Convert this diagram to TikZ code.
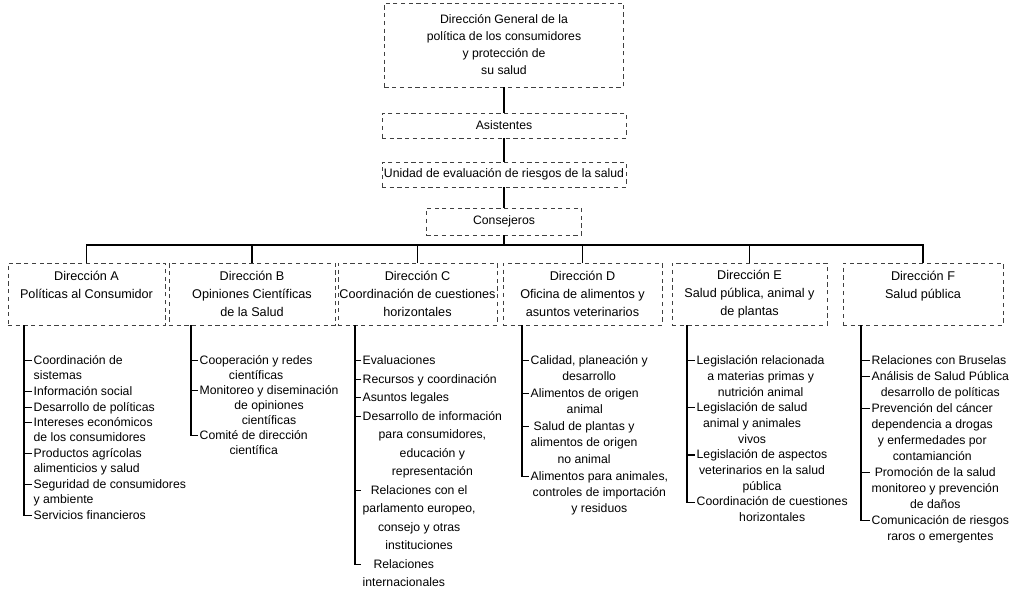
\documentclass[tikz,border=0pt]{standalone}
\usepackage{fontspec}
\setmainfont{Liberation Sans}

\newcommand{\txc}[1]{\begin{tabular}[t]{@{}c@{}}#1\end{tabular}}
\newcommand{\txl}[1]{\begin{tabular}[t]{@{}l@{}}#1\end{tabular}}

\tikzset{
  dbox/.style={draw=black!75, dash pattern=on 3pt off 2.5pt, line width=0.5pt, align=center, inner sep=1pt, font=\fontsize{8.7}{12.1}\selectfont},
  dirbox/.style={dbox, minimum height=1.55cm, font=\fontsize{9}{12.8}\selectfont},
  item/.style={anchor=base west, inner sep=1pt, font=\fontsize{8.7}{#1}\selectfont},
  item/.default=11pt,
  link/.style={line width=0.8pt},
}

\begin{document}
\begin{tikzpicture}[x=0.025cm,y=-0.025cm]
\useasboundingbox (0,0) rectangle (1013,593);
% upper part
\node[dbox, minimum width=5.975cm, minimum height=2.1cm] (dg) at (504,45) {Dirección General de la\\política de los consumidores\\y protección de\\su salud};
\node[dbox, minimum width=6.1cm, minimum height=0.625cm] (asis) at (504,125.5) {Asistentes};
\node[dbox, minimum width=6.1cm, minimum height=0.625cm] (unid) at (504,174.5) {Unidad de evaluación de riesgos de la salud};
\node[dbox, minimum width=3.875cm, minimum height=0.675cm] (cons) at (504,221.5) {Consejeros};
\coordinate (bus) at (504,245);
\draw[link] (dg) -- (asis);
\draw[link] (asis) -- (unid);
\draw[link] (unid) -- (cons);
\draw[link] (cons) -- (bus);
% direcciones
\node[dirbox, minimum width=3.925cm] (dirA) at (86.5,294) {Dirección A\\Políticas al Consumidor\\\mbox{}};
\node[dirbox, minimum width=4.15cm] (dirB) at (252,294) {Dirección B\\Opiniones Científicas\\de la Salud};
\node[dirbox, minimum width=3.975cm] (dirC) at (417.5,294) {Dirección C\\Coordinación de cuestiones\\horizontales};
\node[dirbox, minimum width=3.975cm] (dirD) at (582.5,294) {Dirección D\\Oficina de alimentos y\\asuntos veterinarios};
\node[dirbox, minimum width=3.875cm] (dirE) at (749.5,294) {Dirección E\\Salud pública, animal y\\de plantas};
\node[dirbox, minimum width=4cm] (dirF) at (923,294) {Dirección F\\Salud pública\\\mbox{}};
\draw[link] (dirA) |- (bus) -| (dirF);
\foreach \d in {dirB,dirC,dirD,dirE}
  \draw[link] (\d) -- (\d |- bus);
% Direccion A
\coordinate (sA) at (dirA.south -| 24,0);
\node[item] (a1) at (32,364.5) {\txl{Coordinación de\\sistemas}};
\node[item] (a2) at (32,395.5) {Información social};
\node[item] (a3) at (32,411) {Desarrollo de políticas};
\node[item] (a4) at (32,426.5) {\txl{Intereses económicos\\de los consumidores}};
\node[item] (a5) at (32,457.5) {\txl{Productos agrícolas\\alimenticios y salud}};
\node[item] (a6) at (32,488.5) {\txl{Seguridad de consumidores\\y ambiente}};
\node[item] (a7) at (32,519.5) {Servicios financieros};
\draw[link] (sA) |- (a7.mid west);
\foreach \i in {1,...,6}
  \draw[link] (a\i.mid west -| sA) -- (a\i.mid west);
% Direccion B
\coordinate (sB) at (dirB.south -| 191,0);
\node[item=10.7pt] (b1) at (198,364.5) {\txc{Cooperación y redes\\científicas}};
\node[item=10.7pt] (b2) at (198,394.5) {\txc{Monitoreo y diseminación\\de opiniones\\científicas}};
\node[item=10.7pt] (b3) at (198,439.5) {\txc{Comité de dirección\\científica}};
\draw[link] (sB) |- (b3.mid west);
\foreach \i in {1,2}
  \draw[link] (b\i.mid west -| sB) -- (b\i.mid west);
% Direccion C
\coordinate (sC) at (dirC.south -| 355,0);
\node[item=13.2pt] (c1) at (361,364.5) {Evaluaciones};
\node[item=13.2pt] (c2) at (361,383) {Recursos y coordinación};
\node[item=13.2pt] (c3) at (361,401.5) {Asuntos legales};
\node[item=13.2pt] (c4) at (361,420) {\txc{Desarrollo de información\\para consumidores,\\educación y\\representación}};
\node[item=13.2pt] (c5) at (361,494) {\txc{Relaciones con el\\parlamento europeo,\\consejo y otras\\instituciones}};
\node[item=13.2pt] (c6) at (361,568) {\txc{Relaciones\\internacionales}};
\draw[link] (sC) |- (c6.mid west);
\foreach \i in {1,...,5}
  \draw[link] (c\i.mid west -| sC) -- (c\i.mid west);
% Direccion D
\coordinate (sD) at (dirD.south -| 522,0);
\node[item=11.7pt] (d1) at (529,364.5) {\txc{Calidad, planeación y\\desarrollo}};
\node[item=11.7pt] (d2) at (529,397.5) {\txc{Alimentos de origen\\animal}};
\node[item=11.7pt] (d3) at (529,430.5) {\txc{Salud de plantas y\\alimentos de origen\\no animal}};
\node[item=11.7pt] (d4) at (529,480) {\txc{Alimentos para animales,\\controles de importación\\y residuos}};
\draw[link] (sD) |- (d4.mid west);
\foreach \i in {1,2,3}
  \draw[link] (d\i.mid west -| sD) -- (d\i.mid west);
% Direccion E
\coordinate (sE) at (dirE.south -| 687,0);
\node[item=11.2pt] (e1) at (695,364.5) {\txc{Legislación relacionada\\a materias primas y\\nutrición animal}};
\node[item=11.2pt] (e2) at (695,411.6) {\txc{Legislación de salud\\animal y animales\\vivos}};
\node[item=11.2pt] (e3) at (695,458.7) {\txc{Legislación de aspectos\\veterinarios en la salud\\pública}};
\node[item=11.2pt] (e4) at (695,505.8) {\txc{Coordinación de cuestiones\\horizontales}};
\draw[link] (sE) |- (e4.mid west);
\foreach \i in {1,2,3}
  \draw[link] (e\i.mid west -| sE) -- (e\i.mid west);
% Direccion F
\coordinate (sF) at (dirF.south -| 861,0);
\node[item=11.4pt] (f1) at (870,364.5) {Relaciones con Bruselas};
\node[item=11.4pt] (f2) at (870,380.5) {\txc{Análisis de Salud Pública\\desarrollo de políticas}};
\node[item=11.4pt] (f3) at (870,412.5) {\txc{Prevención del cáncer\\dependencia a drogas\\y enfermedades por\\contamianción}};
\node[item=11.4pt] (f4) at (870,476.5) {\txc{Promoción de la salud\\monitoreo y prevención\\de daños}};
\node[item=11.4pt] (f5) at (870,524.5) {\txc{Comunicación de riesgos\\raros o emergentes}};
\draw[link] (sF) |- (f5.mid west);
\foreach \i in {1,...,4}
  \draw[link] (f\i.mid west -| sF) -- (f\i.mid west);
\end{tikzpicture}
\end{document}
